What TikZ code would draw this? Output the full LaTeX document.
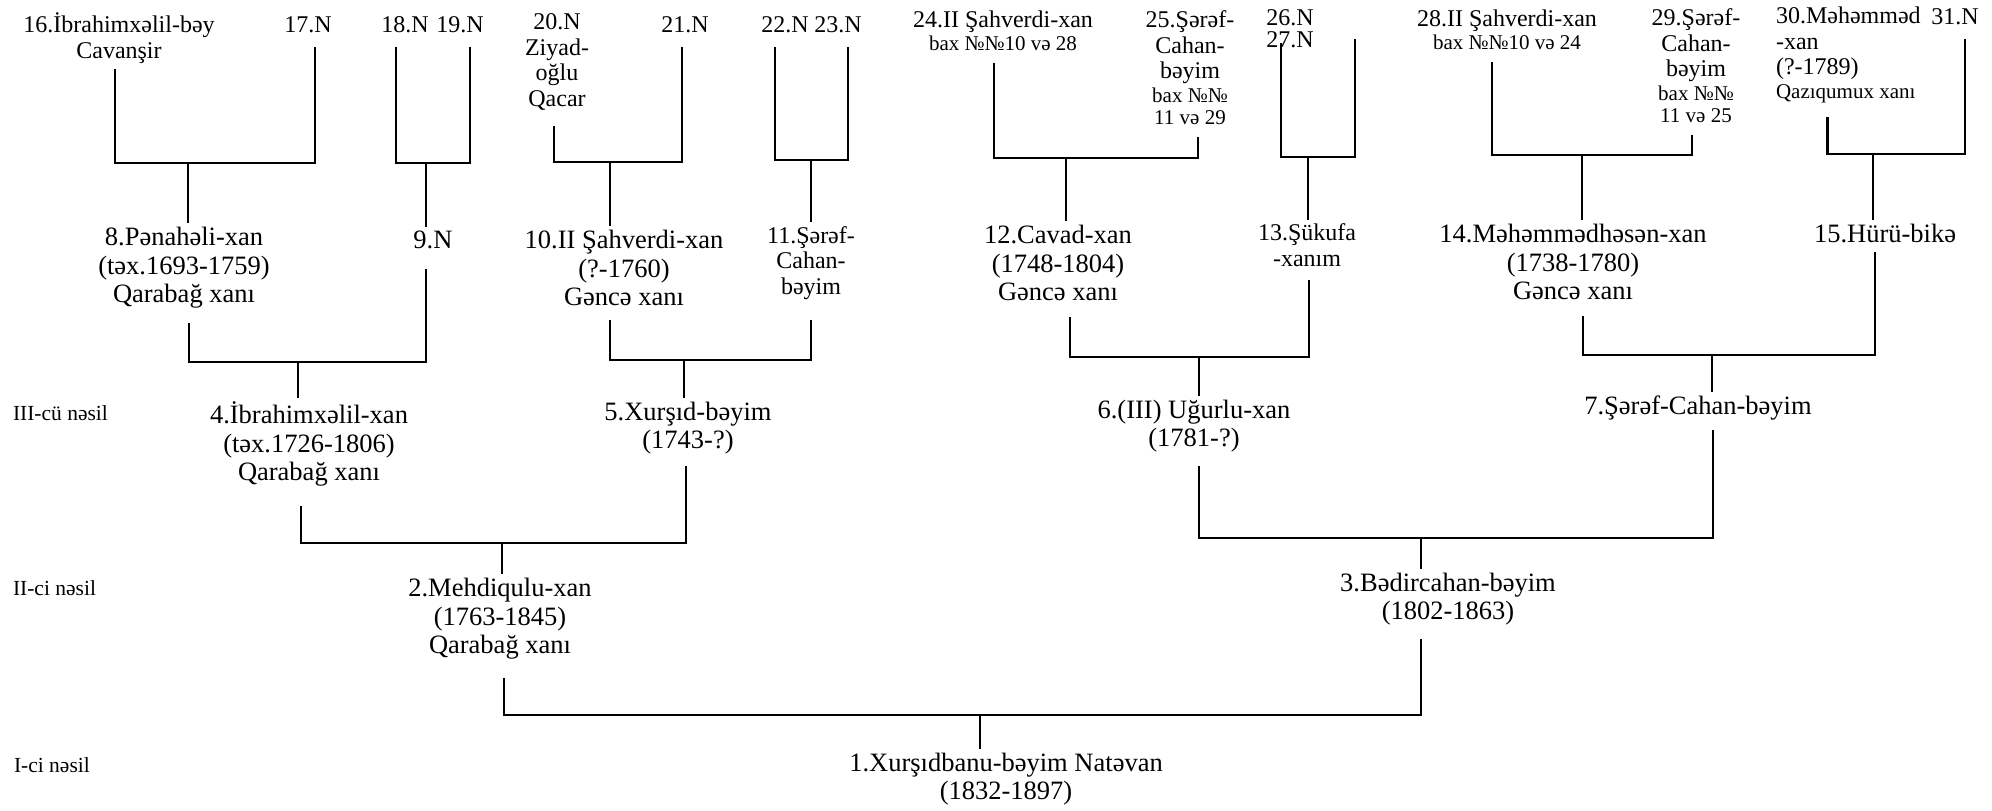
\documentclass[tikz,border=0pt]{standalone}
\usepackage{fontspec}
\setmainfont{Liberation Serif}
\newcommand{\smf}{\fontsize{10.5}{11}\selectfont}
\begin{document}
\begin{tikzpicture}[x=0.5pt,y=-0.5pt,
  every node/.style={inner sep=2pt, outer sep=0pt, align=center},
  mainf/.style={font=\fontsize{13.25}{14.25}\selectfont},
  topf/.style={font=\fontsize{12}{12.75}\selectfont},
  labf/.style={font=\fontsize{10.75}{12}\selectfont, anchor=west, inner sep=0pt},
  ln/.style={line width=1.2pt, line join=miter}]
\useasboundingbox[fill=white] (0,0) rectangle (1992,810);

% ---- generation labels
\node[labf] (lab3) at (13,413) {III-cü nəsil};
\node[labf] (lab2) at (13,588) {II-ci nəsil};
\node[labf] (lab1) at (14,765) {I-ci nəsil};

% ---- top row
\node[topf] (n16) at (119,38) {16.İbrahimxəlil-bəy\\Cavanşir};
\node[topf] (n17) at (308,25) {17.N};
\node[topf] (n18) at (405,25) {18.N};
\node[topf] (n19) at (460,25) {19.N};
\node[topf] (n20) at (557,62) {20.N\\Ziyad-\\oğlu\\Qacar};
\node[topf] (n21) at (685,25) {21.N};
\node[topf] (n22) at (785,25) {22.N};
\node[topf] (n23) at (838,25) {23.N};
\node[topf] (n24) at (1003,31) {24.II Şahverdi-xan\\[-1.5pt]{\smf bax №№10 və 28}};
\node[topf] (n25) at (1190,68) {25.Şərəf-\\Cahan-\\bəyim\\[-1pt]{\smf bax №№}\\[-1.5pt]{\smf 11 və 29}};
\node[topf] (n26) at (1290,18) {26.N};
\node[topf] (n27) at (1290,40) {27.N};
\node[topf] (n28) at (1507,30) {28.II Şahverdi-xan\\[-1.5pt]{\smf bax №№10 və 24}};
\node[topf] (n29) at (1696,66) {29.Şərəf-\\Cahan-\\bəyim\\[-1pt]{\smf bax №№}\\[-1.5pt]{\smf 11 və 25}};
\node[topf, anchor=west, align=left] (n30) at (1772,55) {30.Məhəmməd\\-xan\\(?-1789)\\[-1pt]{\smf Qazıqumux xanı}};
\node[topf] (n31) at (1955,17) {31.N};

% ---- second row
\node[mainf] (n8)  at (184,268) {8.Pənahəli-xan\\(təx.1693-1759)\\Qarabağ xanı};
\node[mainf] (n9)  at (433,240) {9.N};
\node[mainf] (n10) at (624,268) {10.II Şahverdi-xan\\(?-1760)\\Gəncə xanı};
\node[topf]  (n11) at (811,263) {11.Şərəf-\\Cahan-\\bəyim};
\node[mainf] (n12) at (1058,263) {12.Cavad-xan\\(1748-1804)\\Gəncə xanı};
\node[topf]  (n13) at (1307,245) {13.Şükufa\\-xanım};
\node[mainf] (n14) at (1573,262) {14.Məhəmmədhəsən-xan\\(1738-1780)\\Gəncə xanı};
\node[mainf] (n15) at (1885,233) {15.Hürü-bikə};

% ---- third row
\node[mainf] (n4) at (309,444) {4.İbrahimxəlil-xan\\(təx.1726-1806)\\Qarabağ xanı};
\node[mainf] (n5) at (688,428) {5.Xurşıd-bəyim\\(1743-?)};
\node[mainf] (n6) at (1194,426) {6.(III) Uğurlu-xan\\(1781-?)};
\node[mainf] (n7) at (1698,408) {7.Şərəf-Cahan-bəyim};

% ---- fourth row
\node[mainf] (n2) at (500,619) {2.Mehdiqulu-xan\\(1763-1845)\\Qarabağ xanı};
\node[mainf] (n3) at (1448,599) {3.Bədircahan-bəyim\\(1802-1863)};

% ---- fifth row
\node[mainf] (n1) at (1006,779) {1.Xurşıdbanu-bəyim Natəvan\\(1832-1897)};

% ---- junctions
\coordinate (j8)  at (188,163);
\coordinate (j9)  at (426,163);
\coordinate (j10) at (610,162);
\coordinate (j11) at (811,160);
\coordinate (j12) at (1066,158);
\coordinate (j13) at (1308,157);
\coordinate (j14) at (1582,155);
\coordinate (j15) at (1873,154);
\coordinate (j4)  at (298,362);
\coordinate (j5)  at (684,360);
\coordinate (j6)  at (1199,357);
\coordinate (j7)  at (1712,355);
\coordinate (j2)  at (502,543);
\coordinate (j3)  at (1421,538);
\coordinate (j1)  at (980,715);

% ---- connectors: top row -> second row
\draw[ln] ([xshift=-2pt,yshift=-1pt]n16.south) |- (j8) -| ([xshift=3.5pt,yshift=-5pt]n17.south);
\draw[ln] (j8) -- (j8 |- n8.north);
\draw[ln] ([xshift=-4.5pt,yshift=-5pt]n18.south) |- (j9) -| ([xshift=5pt,yshift=-5pt]n19.south);
\draw[ln] (j9) -- (j9 |- n9.north);
\draw[ln] ([xshift=-1.5pt,yshift=-6pt]n20.south) |- (j10) -| ([xshift=-1.5pt,yshift=-5pt]n21.south);
\draw[ln] (j10) -- (j10 |- n10.north);
\draw[ln] ([xshift=-5pt,yshift=-5pt]n22.south) |- (j11) -| ([xshift=5pt,yshift=-5pt]n23.south);
\draw[ln] (j11) -- (j11 |- n11.north);
\draw[ln] ([xshift=-4.5pt,yshift=-4pt]n24.south) |- (j12) -| ([xshift=4pt,yshift=-4pt]n25.south);
\draw[ln] (j12) -- (j12 |- n12.north);
\draw[ln] ([xshift=-4.5pt,yshift=4.5pt]n27.south) |- (j13) -| ([xshift=32.5pt,yshift=-4.5pt]n26.south);
\draw[ln] (j13) -- (j13 |- n13.north);
\draw[ln] ([xshift=-7.5pt,yshift=-4pt]n28.south) |- (j14) -| ([xshift=-2pt,yshift=-4pt]n29.south);
\draw[ln] (j14) -- (j14 |- n14.north);
\draw[ln] ([xshift=-10.5pt,yshift=-5pt]n30.south) |- (j15) -| ([xshift=5pt,yshift=-5pt]n31.south);
\draw[ln] (j15) -- (j15 |- n15.north);

% ---- second row -> third row
\draw[ln] ([xshift=2.5pt,yshift=-5pt]n8.south) |- (j4) -| ([xshift=-3.5pt,yshift=-8pt]n9.south);
\draw[ln] (j4) -- (j4 |- n4.north);
\draw[ln] ([xshift=-7pt,yshift=-5pt]n10.south) |- (j5) -| ([yshift=-8pt]n11.south);
\draw[ln] (j5) -- (j5 |- n5.north);
\draw[ln] ([xshift=6pt,yshift=-6pt]n12.south) |- (j6) -| ([xshift=1pt,yshift=-5pt]n13.south);
\draw[ln] (j6) -- (j6 |- n6.north);
\draw[ln] ([xshift=5pt,yshift=-6pt]n14.south) |- (j7) -| ([xshift=-5pt,yshift=-3pt]n15.south);
\draw[ln] (j7) -- (j7 |- n7.north);

% ---- third row -> fourth row
\draw[ln] ([xshift=-4pt,yshift=-8pt]n4.south) |- (j2) -| ([xshift=-1pt,yshift=-4pt]n5.south);
\draw[ln] (j2) -- (j2 |- n2.north);
\draw[ln] ([xshift=2.5pt,yshift=-5pt]n6.south) |- (j3) -| ([xshift=7.5pt,yshift=-3pt]n7.south);
\draw[ln] (j3) -- (j3 |- n3.north);

% ---- fourth row -> fifth row
\draw[ln] ([xshift=2pt,yshift=-7pt]n2.south) |- (j1) -| ([xshift=-13.5pt,yshift=-5pt]n3.south);
\draw[ln] (j1) -- (j1 |- n1.north);
\end{tikzpicture}
\end{document}
